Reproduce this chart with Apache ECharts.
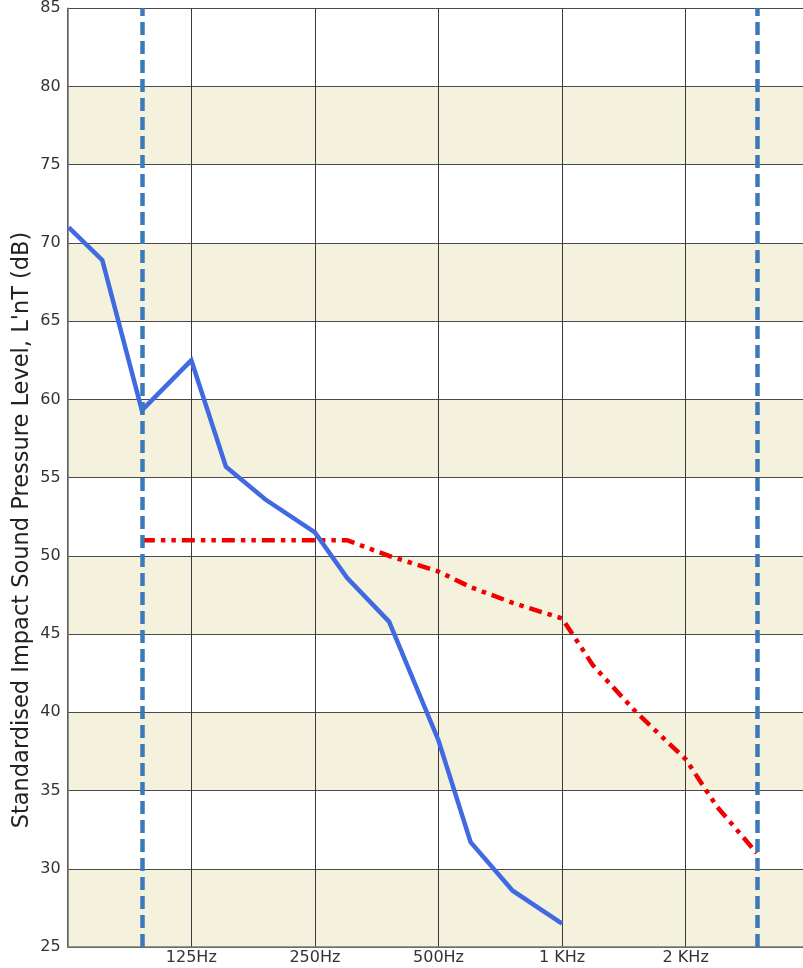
<!DOCTYPE html>
<html>
<head>
<meta charset="utf-8">
<script src="https://cdn.jsdelivr.net/npm/echarts@6/dist/echarts.min.js"></script>
<style>
html,body{margin:0;padding:0;background:#fff;}
#c{width:803px;height:968px;}
</style>
</head>
<body>
<div id="c"></div>
<script>
// Octave band edges of the x axis (each octave is linear inside)
const octaveEdges = [62.5, 125, 250, 500, 1000, 2000, 4000];
const xTickLabels = ['', '125Hz', '250Hz', '500Hz', '1 KHz', '2 KHz', ''];

// Measured curve (third-octave bands)
const measuredFreqs = [63, 80, 100, 125, 160, 200, 250, 315, 400, 500, 630, 800, 1000];
const measuredValues = [71.0, 68.9, 59.3, 62.5, 55.7, 53.6, 51.5, 48.6, 45.8, 38.2, 31.7, 28.6, 26.5];

// Shifted reference curve
const refFreqs = [100, 125, 160, 200, 250, 315, 400, 500, 630, 800, 1000, 1250, 1600, 2000, 2500, 3150];
const refValues = [51, 51, 51, 51, 51, 51, 50, 49, 48, 47, 46, 43, 40, 37, 34, 31];

// Frequency range limits (vertical dashed lines)
const rangeLimits = [100, 3150];

const yTitle = "Standardised Impact Sound Pressure Level, L'nT (dB)";

function pos(f) {
  for (let i = 0; i < octaveEdges.length - 1; i++) {
    if (f >= octaveEdges[i] && f <= octaveEdges[i + 1]) {
      return i + (f - octaveEdges[i]) / (octaveEdges[i + 1] - octaveEdges[i]);
    }
  }
  return 0;
}

const chart = echarts.init(document.getElementById('c'), null, {renderer: 'canvas'});
const font = 'DejaVu Sans, Verdana, sans-serif';

chart.setOption({
  animation: false,
  backgroundColor: '#ffffff',
  grid: {left: 67.7, top: 8.3, width: 741.6, height: 938.7, containLabel: false, outerBoundsMode: 'none'},
  xAxis: {
    type: 'value',
    min: 0, max: 6, interval: 1,
    axisLine: {show: true, onZero: false, lineStyle: {color: '#777', width: 1.5}},
    axisTick: {show: false},
    axisLabel: {
      margin: 3,
      color: '#333',
      fontSize: 16,
      fontFamily: font,
      formatter: function (v) { return xTickLabels[Math.round(v)] || ''; }
    },
    splitLine: {show: true, lineStyle: {color: '#3a3a3a', width: 1}}
  },
  yAxis: {
    type: 'value',
    min: 25, max: 85, interval: 5,
    axisLine: {show: true, lineStyle: {color: '#6e6e6e', width: 1.5}},
    axisTick: {show: false},
    axisLabel: {margin: 7, color: '#333', fontSize: 16, fontFamily: font},
    splitLine: {show: true, lineStyle: {color: '#4a4a4a', width: 1}},
    splitArea: {show: true, areaStyle: {color: ['#f4f2dc', '#ffffff']}}
  },
  graphic: [{
    type: 'text',
    x: 22, y: 530,
    rotation: Math.PI / 2,
    style: {
      text: yTitle,
      fontSize: 22.5,
      fontFamily: font,
      fill: '#222',
      align: 'center',
      verticalAlign: 'middle'
    }
  }],
  series: [
    {
      type: 'line',
      data: refFreqs.map((f, i) => [pos(f), refValues[i]]),
      showSymbol: false,
      symbol: 'none',
      lineStyle: {color: '#f00000', width: 4.5, type: [13, 6, 4.5, 6, 4.5, 6], cap: 'butt', join: 'miter'},
      z: 3,
      markLine: {
        silent: true,
        symbol: 'none',
        label: {show: false},
        lineStyle: {color: '#3b79bb', width: 4.5, type: [13, 6]},
        data: rangeLimits.map(f => ({xAxis: pos(f)}))
      }
    },
    {
      type: 'line',
      data: measuredFreqs.map((f, i) => [pos(f), measuredValues[i]]),
      showSymbol: false,
      symbol: 'none',
      lineStyle: {color: '#4169e1', width: 4.5, join: 'miter'},
      z: 4
    }
  ]
});
</script>
</body>
</html>
